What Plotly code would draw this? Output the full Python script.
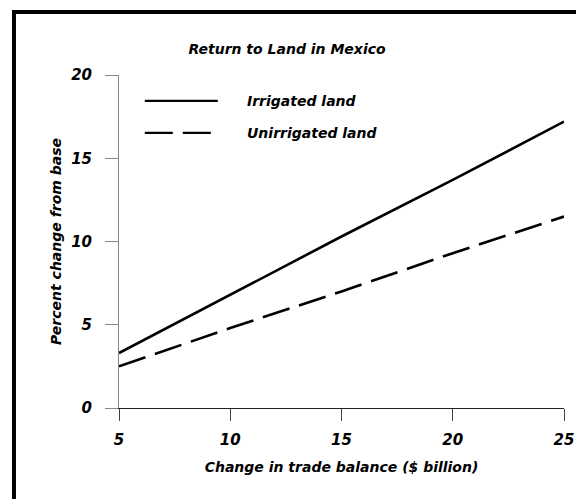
import plotly.graph_objects as go

# trade balance change ($ billion)
trade_balance = [5, 10, 15, 20, 25]
# percent change from base
irrigated = [3.3, 6.8, 10.3, 13.7, 17.2]
unirrigated = [2.5, 4.8, 7.0, 9.3, 11.5]
x_ticks = [5, 10, 15, 20, 25]
y_ticks = [0, 5, 10, 15, 20]

FONT = "DejaVu Sans"
fig = go.Figure()

fig.add_trace(go.Scatter(x=trade_balance, y=irrigated, mode="lines",
                         line=dict(color="black", width=2.6), name="Irrigated land"))
fig.add_trace(go.Scatter(x=trade_balance, y=unirrigated, mode="lines",
                         line=dict(color="black", width=2.6, dash="28px,10px"),
                         name="Unirrigated land"))

fig.update_layout(
    width=576, height=499,
    margin=dict(l=119, r=12, t=75, b=91),
    paper_bgcolor="white", plot_bgcolor="white",
    showlegend=False,
    font=dict(family=FONT, size=15, color="black"),
    title=dict(text="<b><i>Return to Land in Mexico</i></b>", x=287 / 576,
               xanchor="center", y=1 - 49 / 499, yanchor="middle",
               font=dict(size=14, family=FONT)),
)

fig.update_xaxes(range=[5, 25], tickvals=x_ticks,
                 ticktext=["<b><i>%d</i></b>" % v for v in x_ticks],
                 showgrid=False, zeroline=False, showline=True, linecolor="#222",
                 linewidth=1, ticks="outside", ticklen=12, tickcolor="#444",
                 ticklabelstandoff=6, automargin=False,
                 title=dict(text="<b><i>Change in trade balance ($ billion)</i></b>",
                            standoff=14, font=dict(size=14)))
fig.update_yaxes(range=[0, 20], tickvals=y_ticks,
                 ticktext=["<b><i>%d</i></b>" % v for v in y_ticks],
                 showgrid=False, zeroline=False, showline=True, linecolor="#888",
                 linewidth=1, ticks="outside", ticklen=13, tickcolor="#888",
                 ticklabelstandoff=10, automargin=False,
                 title=dict(text="<b><i>Percent change from base</i></b>",
                            standoff=6, font=dict(size=14)))

# black frame (partly cut off at right/bottom)
fig.add_shape(type="rect", xref="paper", yref="paper",
              x0=-0.236, x1=1.2, y0=-0.4, y1=1.189,
              line=dict(color="black", width=4), layer="above")

# hand-drawn legend
fig.add_shape(type="line", xref="paper", yref="paper", x0=0.058, x1=0.222,
              y0=0.922, y1=0.922, line=dict(color="black", width=2.2))
fig.add_shape(type="line", xref="paper", yref="paper", x0=0.058, x1=0.222,
              y0=0.826, y1=0.826, line=dict(color="black", width=2.2, dash="28px,10px"))
fig.add_annotation(xref="paper", yref="paper", x=0.283, y=0.922, xanchor="left",
                   yanchor="middle", showarrow=False,
                   text="<b><i>Irrigated land</i></b>", font=dict(size=14))
fig.add_annotation(xref="paper", yref="paper", x=0.283, y=0.826, xanchor="left",
                   yanchor="middle", showarrow=False,
                   text="<b><i>Unirrigated land</i></b>", font=dict(size=14))

# drop the default 8px page margin so the figure fills the window exactly
fig.write_html("out.html", config={"displayModeBar": False},
               post_script="document.body.style.margin='0';document.body.style.overflow='hidden';")
